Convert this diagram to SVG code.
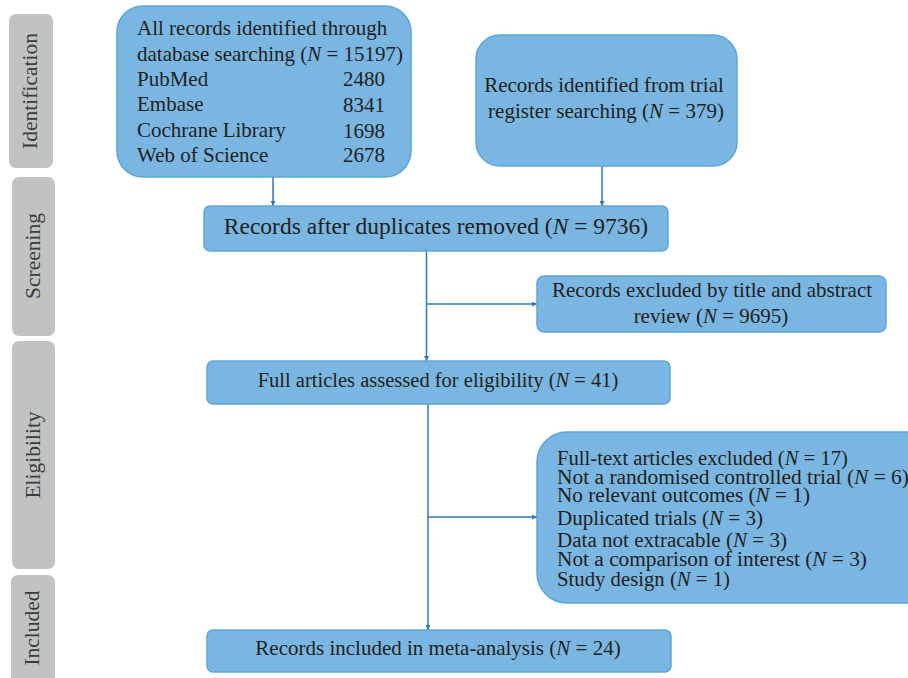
<svg xmlns="http://www.w3.org/2000/svg" width="908" height="678" viewBox="0 0 908 678">
<defs>
<style>
.stage{fill:#c1c2c2;}
.stxt{font-family:"Liberation Serif",serif;font-size:21.5px;fill:#3b3b3b;text-anchor:middle;}
.box{fill:#79b6e1;stroke:#5ea6da;stroke-width:1.5;}
.t{font-family:"Liberation Serif",serif;font-size:21px;fill:#231f20;}
.s6{font-size:20px;}
.c{text-anchor:middle;}
.con{stroke:#2f76ba;stroke-width:1.5;fill:none;}
</style>
<marker id="ah" viewBox="0 0 10 10" refX="10" refY="5" markerWidth="5" markerHeight="5" orient="auto" markerUnits="userSpaceOnUse">
<path d="M0,0 L10,5 L0,10 z" fill="#2f76ba"/>
</marker>
</defs>
<g id="stages">
<g id="stage-identification"><rect class="stage" x="9" y="14" width="44" height="154" rx="7"/><text class="stxt" transform="translate(37,91) rotate(-90)">Identification</text></g>
<g id="stage-screening"><rect class="stage" x="12" y="177" width="43" height="159" rx="7"/><text class="stxt" transform="translate(40,256) rotate(-90)">Screening</text></g>
<g id="stage-eligibility"><rect class="stage" x="12" y="341" width="43" height="228" rx="7"/><text class="stxt" transform="translate(40,455) rotate(-90)">Eligibility</text></g>
<g id="stage-included"><rect class="stage" x="11" y="575" width="44" height="110" rx="7"/><text class="stxt" transform="translate(39,628) rotate(-90)">Included</text></g>
</g>
<g id="connectors">
<line class="con" x1="273" y1="177" x2="273" y2="206" marker-end="url(#ah)"/>
<line class="con" x1="602" y1="166" x2="602" y2="206" marker-end="url(#ah)"/>
<line class="con" x1="426.5" y1="251" x2="426.5" y2="361" marker-end="url(#ah)"/>
<line class="con" x1="426.5" y1="304" x2="537" y2="304" marker-end="url(#ah)"/>
<line class="con" x1="428" y1="404" x2="428" y2="630" marker-end="url(#ah)"/>
<line class="con" x1="428" y1="517" x2="537" y2="517" marker-end="url(#ah)"/>
</g>
<g id="n1">
<rect class="box" x="117" y="6" width="294" height="171" rx="26"/>
<text class="t" x="137" y="35">All records identified through</text>
<text class="t" x="137" y="61">database searching (<tspan font-style="italic">N</tspan> = 15197)</text>
<text class="t" x="137" y="86">PubMed</text><text class="t" x="343" y="86">2480</text>
<text class="t" x="137" y="111">Embase</text><text class="t" x="343" y="112">8341</text>
<text class="t" x="137" y="137">Cochrane Library</text><text class="t" x="343" y="138">1698</text>
<text class="t" x="137" y="162">Web of Science</text><text class="t" x="343" y="162">2678</text>
</g>
<g id="n2">
<rect class="box" x="476" y="35" width="261" height="131" rx="24"/>
<text class="t c" x="604" y="92">Records identified from trial</text>
<text class="t c" x="606" y="118">register searching (<tspan font-style="italic">N</tspan> = 379)</text>
</g>
<g id="n3">
<rect class="box" x="204" y="206" width="464" height="45" rx="6"/>
<text class="t c" x="436" y="234" style="font-size:23.5px">Records after duplicates removed (<tspan font-style="italic">N</tspan> = 9736)</text>
</g>
<g id="n4">
<rect class="box" x="537" y="276" width="349" height="56" rx="7"/>
<text class="t c" x="712" y="297">Records excluded by title and abstract</text>
<text class="t c" x="711" y="323">review (<tspan font-style="italic">N</tspan> = 9695)</text>
</g>
<g id="n5">
<rect class="box" x="207" y="361" width="463" height="43" rx="6"/>
<text class="t c" x="438" y="387" style="font-size:20.5px">Full articles assessed for eligibility (<tspan font-style="italic">N</tspan> = 41)</text>
</g>
<g id="n6">
<rect class="box" x="537" y="432" width="400" height="171" rx="30"/>
<text class="t s6" x="557" y="465" textLength="291" lengthAdjust="spacingAndGlyphs">Full-text articles excluded (<tspan font-style="italic">N</tspan> = 17)</text>
<text class="t s6" x="557" y="484" textLength="352" lengthAdjust="spacingAndGlyphs">Not a randomised controlled trial (<tspan font-style="italic">N</tspan> = 6)</text>
<text class="t s6" x="557" y="502" textLength="253" lengthAdjust="spacingAndGlyphs">No relevant outcomes (<tspan font-style="italic">N</tspan> = 1)</text>
<text class="t s6" x="557" y="525" textLength="206" lengthAdjust="spacingAndGlyphs">Duplicated trials (<tspan font-style="italic">N</tspan> = 3)</text>
<text class="t s6" x="557" y="547" textLength="230" lengthAdjust="spacingAndGlyphs">Data not extracable (<tspan font-style="italic">N</tspan> = 3)</text>
<text class="t s6" x="557" y="566" textLength="310" lengthAdjust="spacingAndGlyphs">Not a comparison of interest (<tspan font-style="italic">N</tspan> = 3)</text>
<text class="t s6" x="557" y="586" textLength="173" lengthAdjust="spacingAndGlyphs">Study design (<tspan font-style="italic">N</tspan> = 1)</text>
</g>
<g id="n7">
<rect class="box" x="207" y="630" width="464" height="42" rx="6"/>
<text class="t c" x="438" y="655">Records included in meta-analysis (<tspan font-style="italic">N</tspan> = 24)</text>
</g>
</svg>
